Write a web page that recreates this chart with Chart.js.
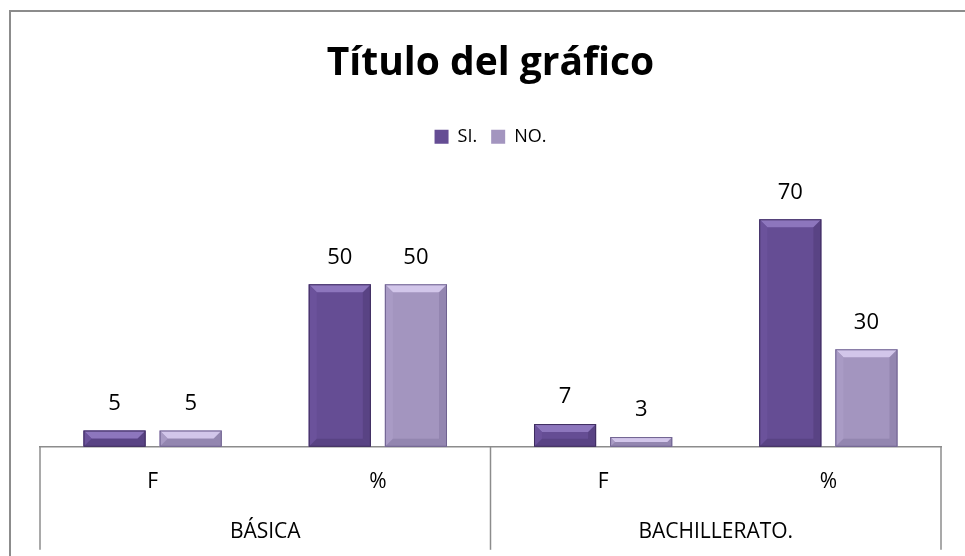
<!DOCTYPE html>
<html>
<head>
<meta charset="utf-8">
<script src="https://cdn.jsdelivr.net/npm/chart.js@4/dist/chart.umd.min.js"></script>
<style>
  html, body { margin: 0; padding: 0; background: #fff; }
  #wrap { width: 965px; height: 556px; position: relative; }
</style>
</head>
<body>
<div id="wrap"><canvas id="myChart"></canvas></div>
<script>
const titleText = "Título del gráfico"
const categories = ["F", "%", "F", "%"]
const groups = ["BÁSICA", "BACHILLERATO."]
const siValues = [5, 50, 7, 70]
const noValues = [5, 50, 3, 30]
const seriesNames = ["SI.", "NO."]

const fontName = "'Open Sans', sans-serif"
const lineGray = "#8c8c8c"

// colours for the two series: body, top bevel, dark edge
const shades = [
    { body: "#654d94", top: "#8d76bd", side: "#6b529b", edge: "#3f2d60" },
    { body: "#a395bf", top: "#d2c6ea", side: "#a99bc5", edge: "#6f6290" }
]

// frame lines around the chart (only the top and left show in the picture)
const framePlugin = {
    id: "frame",
    beforeDraw(chart) {
        const ctx = chart.ctx
        ctx.save()
        ctx.strokeStyle = lineGray
        ctx.lineWidth = 2
        ctx.beginPath()
        ctx.moveTo(10, chart.height)
        ctx.lineTo(10, 11)
        ctx.lineTo(chart.width, 11)
        ctx.stroke()
        ctx.restore()
    }
}

// bevelled look on the bars, drawn over the plain rectangles
const bevelPlugin = {
    id: "bevel",
    afterDatasetsDraw(chart) {
        const ctx = chart.ctx
        chart.data.datasets.forEach((ds, di) => {
            const s = shades[di]
            chart.getDatasetMeta(di).data.forEach((bar) => {
                const { x, y, base, width } = bar.getProps(["x", "y", "base", "width"], true)
                const l = x - width / 2, r = x + width / 2
                const h = base - y
                const b = Math.min(8, h / 2)
                ctx.save()
                // top
                ctx.fillStyle = s.top
                ctx.beginPath()
                ctx.moveTo(l, y); ctx.lineTo(r, y); ctx.lineTo(r - b, y + b); ctx.lineTo(l + b, y + b)
                ctx.closePath(); ctx.fill()
                // left side
                ctx.fillStyle = s.side
                ctx.beginPath()
                ctx.moveTo(l, y); ctx.lineTo(l + b, y + b); ctx.lineTo(l + b, base - b); ctx.lineTo(l, base)
                ctx.closePath(); ctx.fill()
                // right side and bottom, a bit darker
                ctx.fillStyle = s.edge
                ctx.globalAlpha = 0.3
                ctx.beginPath()
                ctx.moveTo(r, y); ctx.lineTo(r - b, y + b); ctx.lineTo(r - b, base - b); ctx.lineTo(r, base)
                ctx.closePath(); ctx.fill()
                ctx.beginPath()
                ctx.moveTo(l, base); ctx.lineTo(l + b, base - b); ctx.lineTo(r - b, base - b); ctx.lineTo(r, base)
                ctx.closePath(); ctx.fill()
                ctx.globalAlpha = 1
                ctx.strokeStyle = s.edge
                ctx.lineWidth = 1
                ctx.strokeRect(l + 0.5, y + 0.5, width - 1, h - 1)
                ctx.restore()
            })
        })
    }
}

// numbers above the bars
const valueLabelPlugin = {
    id: "valueLabels",
    afterDatasetsDraw(chart) {
        const ctx = chart.ctx
        ctx.save()
        ctx.font = "22px " + fontName
        ctx.fillStyle = "#000"
        ctx.textAlign = "center"
        ctx.textBaseline = "middle"
        chart.data.datasets.forEach((ds, di) => {
            chart.getDatasetMeta(di).data.forEach((bar, i) => {
                ctx.fillText(String(ds.data[i]), bar.x, bar.y - 27)
            })
        })
        ctx.restore()
    }
}

// second row of the category axis with the separating lines
const groupAxisPlugin = {
    id: "groupAxis",
    afterDraw(chart) {
        const ctx = chart.ctx
        const xs = chart.scales.x
        const area = chart.chartArea
        const per = categories.length / groups.length
        const half = (xs.getPixelForValue(1) - xs.getPixelForValue(0)) / 2
        ctx.save()
        ctx.strokeStyle = lineGray
        ctx.lineWidth = 1.5
        ctx.font = "21px " + fontName
        ctx.fillStyle = "#000"
        ctx.textAlign = "center"
        ctx.textBaseline = "middle"
        for (let g = 0; g <= groups.length; g++) {
            const idx = Math.min(g * per, categories.length - 1)
            const px = g * per < categories.length ? xs.getPixelForValue(idx) - half : xs.getPixelForValue(idx) + half
            ctx.beginPath()
            ctx.moveTo(px, area.bottom)
            ctx.lineTo(px, area.bottom + 103)
            ctx.stroke()
        }
        groups.forEach((name, g) => {
            const a = xs.getPixelForValue(g * per) - half
            const b = xs.getPixelForValue(g * per + per - 1) + half
            ctx.fillText(name, (a + b) / 2, area.bottom + 85)
        })
        ctx.restore()
    }
}

new Chart(document.getElementById("myChart"), {
    type: "bar",
    data: {
        labels: categories,
        datasets: [{
            label: seriesNames[0],
            data: siValues,
            backgroundColor: shades[0].body,
            borderColor: shades[0].edge,
            borderWidth: 0
        }, {
            label: seriesNames[1],
            data: noValues,
            backgroundColor: shades[1].body,
            borderColor: shades[1].edge,
            borderWidth: 0
        }]
    },
    options: {
        responsive: true,
        maintainAspectRatio: false,
        animation: false,
        categoryPercentage: 0.676,
        barPercentage: 0.816,
        layout: { padding: { left: 40, right: 24, top: 32, bottom: 46 } },
        plugins: {
            title: {
                display: true,
                text: titleText,
                color: "#000",
                font: { family: fontName, size: 39, weight: "bold" },
                padding: { top: 8, bottom: 27 }
            },
            legend: {
                display: true,
                labels: {
                    color: "#000",
                    font: { family: fontName, size: 18 },
                    boxWidth: 14,
                    boxHeight: 14,
                    padding: 14
                }
            },
            tooltip: { enabled: false }
        },
        scales: {
            x: {
                grid: { display: false },
                border: { display: true, color: lineGray, width: 1.5 },
                ticks: {
                    color: "#000",
                    font: { family: fontName, size: 21 },
                    padding: 15
                }
            },
            // empty band between the legend and the bars
            gap: {
                type: "linear",
                position: "top",
                display: true,
                grid: { display: false },
                border: { display: false },
                ticks: { display: false },
                afterFit(axis) { axis.height = 31 }
            },
            y: {
                display: false,
                min: 0,
                max: 80
            }
        }
    },
    plugins: [framePlugin, bevelPlugin, valueLabelPlugin, groupAxisPlugin]
})
</script>
</body>
</html>
